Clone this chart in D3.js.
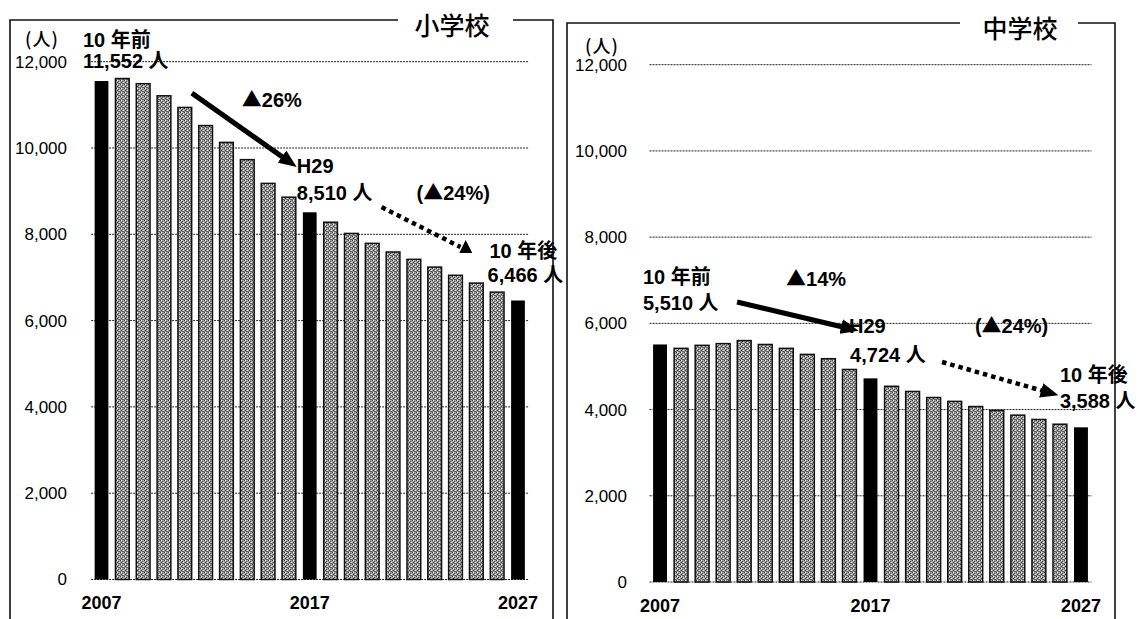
<!DOCTYPE html>
<html>
<head>
<meta charset="utf-8">
<script src="https://cdn.jsdelivr.net/npm/d3@7"></script>
<style>
  body { margin: 0; background: #fff; }
  text { font-family: "Liberation Sans", Arial, "Noto Sans CJK JP", sans-serif; fill: #000; }
</style>
</head>
<body>
<svg id="chart" width="1147" height="619"></svg>
<script>
// data
var years = [2007, 2008, 2009, 2010, 2011, 2012, 2013, 2014, 2015, 2016, 2017,
             2018, 2019, 2020, 2021, 2022, 2023, 2024, 2025, 2026, 2027];
var elementaryValues = [11552, 11610, 11490, 11210, 10940, 10520, 10130, 9730, 9180, 8860, 8510,
                        8280, 8020, 7790, 7590, 7420, 7240, 7050, 6870, 6660, 6466];
var juniorValues = [5510, 5420, 5490, 5530, 5600, 5510, 5420, 5280, 5180, 4930, 4724,
                    4540, 4420, 4280, 4190, 4070, 3980, 3870, 3770, 3660, 3588];
var yTicks = [0, 2000, 4000, 6000, 8000, 10000, 12000];
var xTickYears = [2007, 2017, 2027];
var keyYears = [2007, 2017, 2027];

var svg = d3.select('#chart');
var defs = svg.append('defs');

// stippled grey fill like the scanned bars
var pat = defs.append('pattern').attr('id', 'stipple')
    .attr('width', 4).attr('height', 4).attr('patternUnits', 'userSpaceOnUse');
pat.append('rect').attr('width', 4).attr('height', 4).attr('fill', '#a4a4a4');
[[0, 0, '#3a3a3a'], [2, 1, '#4a4a4a'], [1, 2, '#3a3a3a'], [3, 3, '#555'], [2, 3, '#666'],
 [1, 0, '#ffffff'], [3, 2, '#e6e6e6'], [0, 3, '#7a7a7a']].forEach(function (p) {
  pat.append('rect').attr('x', p[0]).attr('y', p[1]).attr('width', 1).attr('height', 1).attr('fill', p[2]);
});

defs.append('marker').attr('id', 'head')
    .attr('viewBox', '0 0 10 10').attr('preserveAspectRatio', 'none')
    .attr('refX', 3.3).attr('refY', 5)
    .attr('markerWidth', 18).attr('markerHeight', 15)
    .attr('markerUnits', 'userSpaceOnUse').attr('orient', 'auto')
  .append('path').attr('d', 'M0,0L10,5L0,10Z').attr('fill', '#000');
defs.append('marker').attr('id', 'headUp')
    .attr('viewBox', '0 0 10 10').attr('preserveAspectRatio', 'none')
    .attr('refX', 1).attr('refY', 5.4)
    .attr('markerWidth', 13).attr('markerHeight', 13)
    .attr('markerUnits', 'userSpaceOnUse').attr('orient', '0')
  .append('path').attr('d', 'M0,10L5,0L10,10Z').attr('fill', '#000');

var panels = [
  {
    values: elementaryValues,
    title: '小学校', titleX: 452, titleY: 24,
    frame: { x0: 10, x1: 553, y: 20, gap: [398, 513] },
    xRange: [91.1, 528.4], yRange: [579.5, 61.7],
    labelX: 67, unitDy: -16,
    notes: [
      { t: '10 年前', yr: 2006.11, v: 12338 },
      { t: '11,552 人', yr: 2006.11, v: 11851 },
      { t: '▲26%', yr: 2013.74, v: 10948 },
      { t: 'H29', yr: 2016.38, v: 9419 },
      { t: '8,510 人', yr: 2016.38, v: 8793 },
      { t: '(▲24%)', yr: 2022.13, v: 8793 },
      { t: '10 年後', yr: 2025.63, v: 7449 },
      { t: '6,466 人', yr: 2025.54, v: 6893 }
    ],
    solid: [[2011.34, 11272], [2015.90, 9720]],
    dotted: [[2020.45, 8630], [2024.24, 7704]], dottedHead: 'headUp'
  },
  {
    values: juniorValues,
    title: '中学校', titleX: 1020, titleY: 27,
    frame: { x0: 567, x1: 1115, y: 23, gap: [960, 1078] },
    xRange: [649.5, 1091.5], yRange: [582, 64.7],
    labelX: 627, unitDy: -12,
    notes: [
      { t: '10 年前', yr: 2006.19, v: 6913 },
      { t: '5,510 人', yr: 2006.19, v: 6309 },
      { t: '▲14%', yr: 2012.99, v: 6866 },
      { t: 'H29', yr: 2015.98, v: 5776 },
      { t: '4,724 人', yr: 2016.03, v: 5103 },
      { t: '(▲24%)', yr: 2021.96, v: 5776 },
      { t: '10 年後', yr: 2026.0, v: 4639 },
      { t: '3,588 人', yr: 2026.0, v: 4036 }
    ],
    solid: [[2010.66, 6495], [2015.88, 5892]],
    dotted: [[2020.40, 5103], [2025.38, 4407]], dottedHead: 'head'
  }
];

panels.forEach(drawPanel);

function drawPanel(p) {
  var g = svg.append('g');
  var x = d3.scaleBand().domain(years).range(p.xRange).paddingInner(0.34).paddingOuter(0.17);
  var y = d3.scaleLinear().domain([0, 12000]).range(p.yRange);
  // continuous position along the year axis, for annotations
  var cx = function (yr) { return x(years[0]) + x.bandwidth() / 2 + (yr - years[0]) * x.step(); };

  // frame with a gap for the title
  var f = p.frame;
  var frame = g.append('g').attr('stroke', '#111').attr('stroke-width', 1.6).attr('fill', 'none');
  frame.append('path').attr('d', 'M' + f.x0 + ',619V' + f.y + 'H' + f.gap[0]);
  frame.append('path').attr('d', 'M' + f.gap[1] + ',' + f.y + 'H' + f.x1 + 'V619');
  g.append('text').attr('x', p.titleX).attr('y', p.titleY)
      .attr('text-anchor', 'middle').attr('dominant-baseline', 'central')
      .style('font-family', '"Noto Sans CJK JP", sans-serif')
      .style('font-size', '25px').style('font-weight', 500)
      .text(p.title);

  // dotted gridlines
  g.append('g').selectAll('line').data(yTicks).enter().append('line')
      .attr('x1', p.xRange[0]).attr('x2', p.xRange[1])
      .attr('y1', d => y(d)).attr('y2', d => y(d))
      .attr('stroke', '#222').attr('stroke-width', 1).attr('stroke-dasharray', '2 1');

  var yAxis = g.append('g').attr('transform', 'translate(' + p.labelX + ',0)')
      .call(d3.axisLeft(y).tickValues(yTicks).tickSize(0).tickPadding(0).tickFormat(d3.format(',')));
  yAxis.select('.domain').remove();
  yAxis.selectAll('text').style('font-size', '17px')
      .style('font-family', '"Liberation Sans", Arial, sans-serif');

  g.append('text')
      .attr('x', p.labelX - 25).attr('y', y(12000) + p.unitDy)
      .attr('text-anchor', 'middle').style('font-size', '18px')
      .style('font-family', '"Noto Sans CJK JP", sans-serif').style('font-weight', 500)
      .style('letter-spacing', '1px')
      .text('(人)');

  var xAxis = g.append('g').attr('transform', 'translate(0,' + y(0) + ')')
      .call(d3.axisBottom(x).tickValues(xTickYears).tickSize(0).tickPadding(17));
  xAxis.select('.domain').remove();
  xAxis.selectAll('text').style('font-size', '18px').style('font-weight', 'bold')
      .style('font-family', '"Liberation Sans", Arial, sans-serif');

  var rows = years.map((yr, i) => ({ year: yr, value: p.values[i] }));
  g.append('g').selectAll('rect').data(rows).enter().append('rect')
      .attr('x', d => x(d.year))
      .attr('y', d => y(d.value))
      .attr('width', x.bandwidth())
      .attr('height', d => y(0) - y(d.value))
      .attr('fill', d => keyYears.indexOf(d.year) >= 0 ? '#000' : 'url(#stipple)')
      .attr('stroke', '#111')
      .attr('stroke-width', d => keyYears.indexOf(d.year) >= 0 ? 0 : 1.5);

  // arrows
  g.append('line')
      .attr('x1', cx(p.solid[0][0])).attr('y1', y(p.solid[0][1]))
      .attr('x2', cx(p.solid[1][0])).attr('y2', y(p.solid[1][1]))
      .attr('stroke', '#000').attr('stroke-width', 5)
      .attr('marker-end', 'url(#head)');
  g.append('line')
      .attr('x1', cx(p.dotted[0][0])).attr('y1', y(p.dotted[0][1]))
      .attr('x2', cx(p.dotted[1][0])).attr('y2', y(p.dotted[1][1]))
      .attr('stroke', '#000').attr('stroke-width', 4.5).attr('stroke-dasharray', '4.5 4')
      .attr('marker-end', 'url(#' + p.dottedHead + ')');

  // annotation text; the ▲ glyph comes from the CJK font so it is full size
  var notes = g.append('g').selectAll('text').data(p.notes).enter().append('text')
      .attr('x', d => cx(d.yr)).attr('y', d => y(d.v))
      .style('font-size', '20px').style('font-weight', 'bold');
  notes.each(function (d) {
    var t = d3.select(this);
    d.t.split(/(▲)/).forEach(function (part) {
      if (!part) return;
      var s = t.append('tspan').text(part);
      if (part === '▲') s.style('font-family', '"Noto Sans CJK JP", sans-serif');
    });
  });
}
</script>
</body>
</html>
